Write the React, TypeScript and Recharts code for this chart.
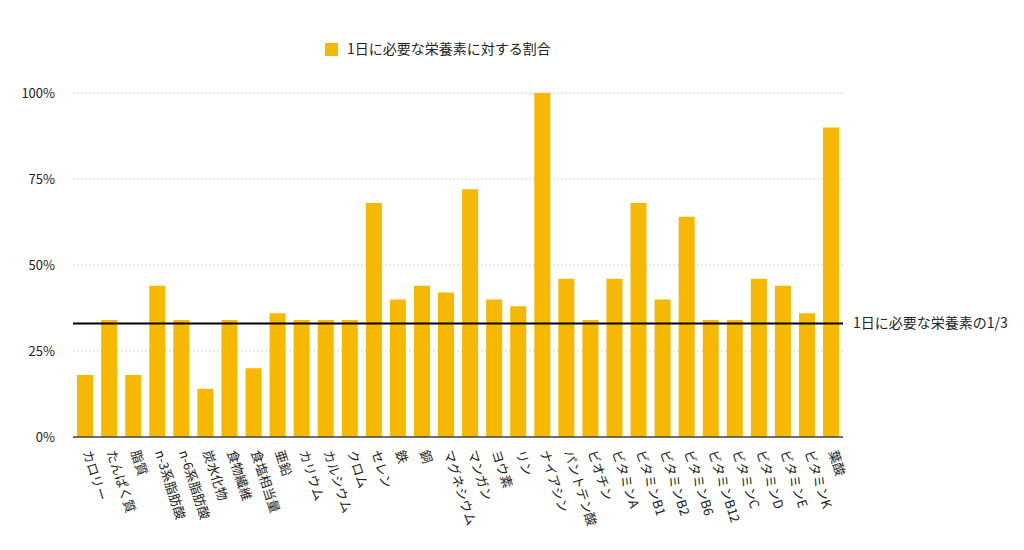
import { BarChart, Bar, XAxis, YAxis, CartesianGrid, Legend, ReferenceLine } from "recharts"

const nutrients = [
  "カロリー", "たんぱく質", "脂質", "n-3系脂肪酸", "n-6系脂肪酸", "炭水化物", "食物繊維", "食塩相当量",
  "亜鉛", "カリウム", "カルシウム", "クロム", "セレン", "鉄", "銅", "マグネシウム",
  "マンガン", "ヨウ素", "リン", "ナイアシン", "パントテン酸", "ビオチン", "ビタミンA", "ビタミンB1",
  "ビタミンB2", "ビタミンB6", "ビタミンB12", "ビタミンC", "ビタミンD", "ビタミンE", "ビタミンK", "葉酸",
]
const ratios = [
  18, 34, 18, 44, 34, 14, 34, 20,
  36, 34, 34, 34, 68, 40, 44, 42,
  72, 40, 38, 100, 46, 34, 46, 68,
  40, 64, 34, 34, 46, 44, 36, 90,
]
const yTicks = [0, 25, 50, 75, 100]
const seriesName = "1日に必要な栄養素に対する割合"
const refValue = 33
const refLabel = "1日に必要な栄養素の1/3"

const data = nutrients.map((name, i) => ({ name, value: ratios[i] }))

const font = '"Noto Sans CJK JP", "Noto Sans", sans-serif'

const SlantTick = ({ x, y, payload }: any) => (
  <g transform={`translate(${x},${y})`}>
    <text
      x={6}
      y={0}
      dy="0.35em"
      transform="rotate(72)"
      textAnchor="start"
      fill="#222"
      fontSize={13}
      fontFamily={font}
    >
      {payload.value}
    </text>
  </g>
)

export default function App() {
  return (
    <div style={{ fontFamily: font }}>
      <BarChart
        width={1000}
        height={540}
        data={data}
        margin={{ top: 61, right: 165, bottom: 11, left: 0 }}
        barCategoryGap="17%"
      >
        <CartesianGrid vertical={false} stroke="#cfcfcf" strokeDasharray="2 2" />
        <XAxis
          dataKey="name"
          interval={0}
          tick={<SlantTick />}
          tickLine={false}
          axisLine={{ stroke: "#444", strokeWidth: 1.5 }}
          height={100}
        />
        <YAxis
          domain={[0, 100]}
          ticks={yTicks}
          tickFormatter={(v: number) => `${v}%`}
          width={65}
          tickLine={false}
          axisLine={false}
          tickSize={0}
          tickMargin={18}
          tick={{ fill: "#222", fontSize: 13, fontFamily: font }}
        />
        <Legend
          verticalAlign="top"
          align="left"
          iconType="square"
          iconSize={13}
          wrapperStyle={{ top: 27, left: 317, width: "auto" }}
          formatter={(v: string) => (
            <span style={{ color: "#222", fontSize: 14, marginLeft: 5 }}>{v}</span>
          )}
        />
        <Bar dataKey="value" name={seriesName} fill="#F6B800" isAnimationActive={false} />
        <ReferenceLine
          y={refValue}
          stroke="#000"
          strokeWidth={2}
          ifOverflow="extendDomain"
          label={{ value: refLabel, position: "right", offset: 10, fill: "#222", fontSize: 14 }}
        />
      </BarChart>
    </div>
  )
}
